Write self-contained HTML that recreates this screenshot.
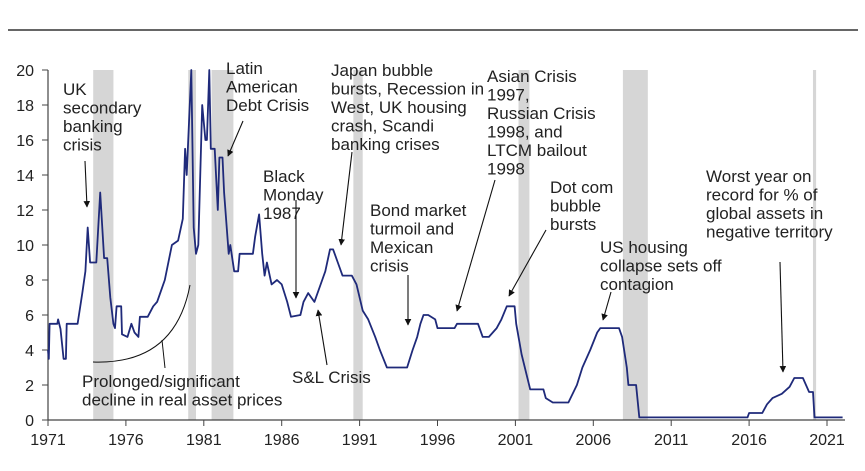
<!DOCTYPE html>
<html><head><meta charset="utf-8"><style>
body{margin:0;background:#fff;}
svg text{font-family:"Liberation Sans",sans-serif;fill:#222;}
</style></head><body>
<svg width="865" height="466" xmlns="http://www.w3.org/2000/svg">
<defs><marker id="ah" viewBox="0 0 10 10" refX="9" refY="5" markerWidth="6" markerHeight="6" orient="auto"><path d="M0,0L10,5L0,10z" fill="#111"/></marker></defs>
<line x1="8" y1="30" x2="858" y2="30" stroke="#333" stroke-width="1.5"/>
<g id="shades"></g>
<g id="axes"></g>
<polyline id="series" fill="none" stroke="#1f2a7a" stroke-width="1.8" stroke-linejoin="round"/>
<g font-size="17">
<text x="63" y="95"><tspan x="63">UK</tspan><tspan x="63" dy="18.5">secondary</tspan><tspan x="63" dy="18.5">banking</tspan><tspan x="63" dy="18.5">crisis</tspan></text>
<text><tspan x="226" y="74">Latin</tspan><tspan x="226" dy="18.5">American</tspan><tspan x="226" dy="18.5">Debt Crisis</tspan></text>
<text><tspan x="263" y="182">Black</tspan><tspan x="263" dy="18.5">Monday</tspan><tspan x="263" dy="18.5">1987</tspan></text>
<text><tspan x="331" y="76">Japan bubble</tspan><tspan x="331" dy="18.5">bursts, Recession in</tspan><tspan x="331" dy="18.5">West, UK housing</tspan><tspan x="331" dy="18.5">crash, Scandi</tspan><tspan x="331" dy="18.5">banking crises</tspan></text>
<text><tspan x="370" y="216">Bond market</tspan><tspan x="370" dy="18.5">turmoil and</tspan><tspan x="370" dy="18.5">Mexican</tspan><tspan x="370" dy="18.5">crisis</tspan></text>
<text><tspan x="487" y="82">Asian Crisis</tspan><tspan x="487" dy="18.5">1997,</tspan><tspan x="487" dy="18.5">Russian Crisis</tspan><tspan x="487" dy="18.5">1998, and</tspan><tspan x="487" dy="18.5">LTCM bailout</tspan><tspan x="487" dy="18.5">1998</tspan></text>
<text><tspan x="550" y="193">Dot com</tspan><tspan x="550" dy="18.5">bubble</tspan><tspan x="550" dy="18.5">bursts</tspan></text>
<text><tspan x="600" y="253">US housing</tspan><tspan x="600" dy="18.5">collapse sets off</tspan><tspan x="600" dy="18.5">contagion</tspan></text>
<text><tspan x="706" y="182">Worst year on</tspan><tspan x="706" dy="18.5">record for % of</tspan><tspan x="706" dy="18.5">global assets in</tspan><tspan x="706" dy="18.5">negative territory</tspan></text>
<text x="292" y="383">S&amp;L Crisis</text>
<text><tspan x="82" y="387">Prolonged/significant</tspan><tspan x="82" dy="18.5">decline in real asset prices</tspan></text>
</g>
<g stroke="#111" stroke-width="1.1" fill="none">
<line x1="85" y1="161" x2="87" y2="207" marker-end="url(#ah)"/>
<line x1="243" y1="121" x2="228" y2="156" marker-end="url(#ah)"/>
<line x1="296" y1="200" x2="296" y2="298" marker-end="url(#ah)"/>
<line x1="352" y1="152" x2="341" y2="245" marker-end="url(#ah)"/>
<line x1="408" y1="275" x2="408" y2="325" marker-end="url(#ah)"/>
<line x1="495" y1="180" x2="457" y2="311" marker-end="url(#ah)"/>
<line x1="546" y1="230" x2="509" y2="296" marker-end="url(#ah)"/>
<line x1="611" y1="292" x2="603" y2="320" marker-end="url(#ah)"/>
<line x1="780" y1="262" x2="783" y2="372" marker-end="url(#ah)"/>
<line x1="327" y1="365" x2="318" y2="310" marker-end="url(#ah)"/>
<path d="M93,362 Q175,365 190,285" stroke-width="1"/>
<line x1="162" y1="340" x2="165" y2="368" stroke-width="1"/>
</g>
</svg>
<script>
const years=[1971,1971.05,1971.1,1971.6,1971.65,1971.8,1972.0,1972.15,1972.2,1972.9,1973.2,1973.4,1973.55,1973.7,1974.1,1974.35,1974.6,1974.8,1975.0,1975.2,1975.3,1975.4,1975.7,1975.75,1976.1,1976.35,1976.55,1976.8,1976.9,1977.4,1977.75,1978.0,1978.3,1978.5,1978.95,1979.35,1979.65,1979.8,1979.9,1980.2,1980.35,1980.5,1980.65,1980.9,1981.1,1981.2,1981.35,1981.45,1981.7,1981.9,1982.0,1982.2,1982.3,1982.6,1982.7,1982.95,1983.2,1983.3,1984.15,1984.3,1984.55,1984.75,1984.9,1985.05,1985.35,1985.7,1986.0,1986.35,1986.6,1987.2,1987.4,1987.7,1987.9,1988.1,1988.6,1988.8,1989.1,1989.3,1989.6,1989.9,1990.5,1990.8,1991.2,1991.55,1992.0,1992.3,1992.75,1994.05,1994.4,1994.7,1994.9,1995.1,1995.4,1995.85,1996.0,1997.1,1997.25,1998.6,1998.9,1999.3,1999.8,2000.1,2000.45,2000.95,2001.05,2001.4,2001.95,2002.8,2002.95,2003.4,2004.4,2004.95,2005.3,2005.8,2006.25,2006.45,2007.65,2007.85,2008.15,2008.25,2008.75,2008.95,2015.9,2016.0,2016.85,2017.15,2017.5,2018.1,2018.6,2018.9,2019.45,2019.65,2019.85,2020.1,2020.2,2022.0];
const rates=[4,3.5,5.5,5.5,5.75,5.2,3.5,3.5,5.5,5.5,7.25,8.5,11,9,9,13,9.25,9.25,7,5.5,5.25,6.5,6.5,4.9,4.75,5.5,5,4.75,5.9,5.9,6.5,6.75,7.5,8,10,10.25,11.5,15.5,14,20,11,9.5,10,18,16,16,20,15.5,15.5,12,15,15,13,9.5,10,8.5,8.5,9.5,9.5,10.5,11.75,9.5,8.25,9,7.75,8,7.75,6.75,5.9,6,6.75,7.25,7,6.75,8,8.5,9.75,9.75,9,8.25,8.25,7.75,6.25,5.75,4.75,4,3,3,4,4.75,5.5,6,6,5.75,5.25,5.25,5.5,5.5,4.75,4.75,5.25,5.75,6.5,6.5,5.5,3.75,1.75,1.75,1.25,1,1,2,3,4,5,5.25,5.25,4.75,3,2,2,0.15,0.15,0.4,0.4,0.9,1.25,1.5,1.9,2.4,2.4,2,1.6,1.6,0.15,0.15];
const recessions=[[1973.9,1975.2],[1980.0,1980.5],[1981.5,1982.9],[1990.6,1991.2],[2001.2,2001.9],[2007.9,2009.5],[2020.1,2020.3]];
const xTicks=[1971,1976,1981,1986,1991,1996,2001,2006,2011,2016,2021];
const yTicks=[0,2,4,6,8,10,12,14,16,18,20];
const NS="http://www.w3.org/2000/svg";
const X=y=>48+(y-1971)*15.58;
const Y=v=>420-Math.min(v,20)*17.5;
function mk(t,a,p){const e=document.createElementNS(NS,t);for(const k in a)e.setAttribute(k,a[k]);p.appendChild(e);return e;}
const sh=document.getElementById('shades');
recessions.forEach(r=>{const e=mk('rect',{x:X(r[0]),y:Y(20),width:Math.max(3,X(r[1])-X(r[0])),height:Y(0)-Y(20),fill:'#d6d6d6'},sh);

});
const ax=document.getElementById('axes');
const xa=mk('line',{x1:X(1971),y1:420,x2:845,y2:420,stroke:'#444','stroke-width':1.2},ax);


const ya=mk('line',{x1:X(1971),y1:Y(20),x2:X(1971),y2:420,stroke:'#444','stroke-width':1.2},ax);


yTicks.forEach(v=>{mk('line',{x1:42,x2:48,y1:Y(v),y2:Y(v),stroke:'#444'},ax);
const t=mk('text',{x:34,y:Y(v)+6,'text-anchor':'end','font-size':16},ax);t.textContent=v;

});
xTicks.forEach(v=>{mk('line',{x1:X(v),x2:X(v),y1:420,y2:426,stroke:'#444'},ax);
const t=mk('text',{x:X(v),y:445,'text-anchor':'middle','font-size':16},ax);t.textContent=v;

});
document.getElementById('series').setAttribute('points',years.map((y,i)=>X(y).toFixed(1)+','+Y(rates[i]).toFixed(1)).join(' '));
</script>
</body></html>
